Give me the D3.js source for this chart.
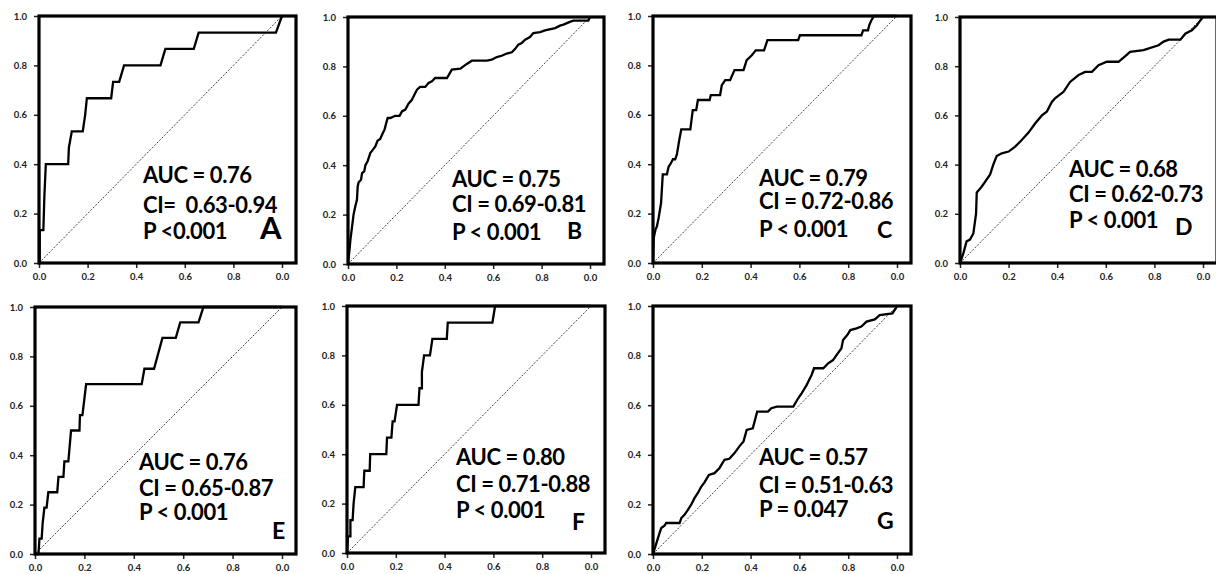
<!DOCTYPE html>
<html>
<head>
<meta charset="utf-8">
<script src="https://cdn.jsdelivr.net/npm/d3@7/dist/d3.min.js"></script>
<style>
  body { margin: 0; background: #fff; }
  text { font-family: Lato, "Open Sans", sans-serif; font-weight: bold; }
</style>
</head>
<body>
<svg id="chart" width="1216" height="574"></svg>
<script>
// tick labels (the last x label really says 0.0 in the original)
const xTicks = [0, 0.2, 0.4, 0.6, 0.8, 1];
const xTickLabels = ["0.0", "0.2", "0.4", "0.6", "0.8", "0.0"];
const yTicks = [0, 0.2, 0.4, 0.6, 0.8, 1];
const yTickLabels = ["0.0", "0.2", "0.4", "0.6", "0.8", "1.0"];

const panelNames = ["A", "B", "C", "D", "E", "F", "G"];

const statsA = ["AUC = 0.76", "CI=  0.63-0.94", "P <0.001"];
const statsB = ["AUC = 0.75", "CI = 0.69-0.81", "P < 0.001"];
const statsC = ["AUC = 0.79", "CI = 0.72-0.86", "P < 0.001"];
const statsD = ["AUC = 0.68", "CI = 0.62-0.73", "P < 0.001"];
const statsE = ["AUC = 0.76", "CI = 0.65-0.87", "P < 0.001"];
const statsF = ["AUC = 0.80", "CI = 0.71-0.88", "P < 0.001"];
const statsG = ["AUC = 0.57", "CI = 0.51-0.63", "P = 0.047"];

// ROC points [1 - specificity, sensitivity]
const rocA = [[0,0],[0.003,0],[0.003,0.133],[0.018,0.133],[0.022,0.267],[0.025,0.333],[0.028,0.4],[0.12,0.4],[0.123,0.467],[0.135,0.533],[0.18,0.533],[0.19,0.6],[0.197,0.667],[0.297,0.667],[0.305,0.733],[0.33,0.733],[0.35,0.8],[0.5,0.8],[0.52,0.867],[0.637,0.867],[0.657,0.933],[0.975,0.933],[1,1]];
const rocB = [[0,0],[0.007,0.065],[0.01,0.099],[0.017,0.152],[0.023,0.2],[0.03,0.233],[0.037,0.26],[0.04,0.314],[0.044,0.331],[0.054,0.341],[0.058,0.368],[0.067,0.375],[0.072,0.4],[0.081,0.416],[0.092,0.449],[0.103,0.463],[0.113,0.476],[0.122,0.499],[0.133,0.506],[0.144,0.53],[0.151,0.544],[0.158,0.571],[0.164,0.591],[0.175,0.591],[0.195,0.6],[0.213,0.6],[0.223,0.618],[0.237,0.625],[0.25,0.649],[0.264,0.665],[0.278,0.692],[0.285,0.706],[0.298,0.717],[0.319,0.717],[0.333,0.733],[0.347,0.74],[0.36,0.753],[0.409,0.753],[0.429,0.787],[0.464,0.791],[0.477,0.8],[0.491,0.81],[0.512,0.823],[0.574,0.823],[0.594,0.827],[0.615,0.838],[0.635,0.843],[0.656,0.852],[0.677,0.857],[0.69,0.87],[0.704,0.888],[0.718,0.895],[0.732,0.908],[0.752,0.919],[0.766,0.935],[0.794,0.939],[0.814,0.946],[0.856,0.955],[0.876,0.965],[0.89,0.969],[0.917,0.98],[0.931,0.985],[0.993,0.985],[1,1]];
const rocC = [[0,0],[0.003,0.101],[0.01,0.135],[0.016,0.148],[0.023,0.182],[0.033,0.242],[0.04,0.359],[0.057,0.359],[0.064,0.39],[0.071,0.4],[0.082,0.42],[0.091,0.42],[0.098,0.44],[0.108,0.5],[0.116,0.541],[0.153,0.541],[0.163,0.619],[0.177,0.619],[0.184,0.66],[0.232,0.66],[0.237,0.68],[0.275,0.68],[0.282,0.72],[0.296,0.74],[0.316,0.74],[0.334,0.781],[0.371,0.781],[0.384,0.821],[0.405,0.841],[0.421,0.861],[0.455,0.861],[0.469,0.902],[0.595,0.902],[0.602,0.922],[0.854,0.922],[0.861,0.942],[0.881,0.942],[0.886,0.962],[0.895,0.983],[0.906,1],[1,1]];
const rocD = [[0,0],[0.014,0.04],[0.027,0.088],[0.041,0.095],[0.055,0.12],[0.066,0.2],[0.069,0.287],[0.089,0.31],[0.103,0.33],[0.124,0.36],[0.137,0.4],[0.151,0.435],[0.172,0.446],[0.2,0.453],[0.227,0.473],[0.254,0.5],[0.282,0.53],[0.309,0.567],[0.337,0.6],[0.357,0.615],[0.378,0.655],[0.391,0.669],[0.426,0.696],[0.453,0.736],[0.488,0.764],[0.515,0.777],[0.543,0.777],[0.57,0.804],[0.604,0.818],[0.652,0.818],[0.673,0.835],[0.7,0.858],[0.755,0.865],[0.817,0.885],[0.838,0.9],[0.859,0.908],[0.907,0.908],[0.927,0.932],[0.954,0.946],[0.975,0.966],[0.989,0.986],[1,1]];
const rocE = [[0,0],[0.014,0],[0.018,0.0625],[0.027,0.0625],[0.031,0.125],[0.038,0.1875],[0.047,0.1875],[0.054,0.25],[0.09,0.25],[0.095,0.3125],[0.115,0.3125],[0.119,0.375],[0.135,0.375],[0.146,0.5],[0.18,0.5],[0.182,0.5625],[0.192,0.5625],[0.207,0.6875],[0.432,0.6875],[0.443,0.75],[0.482,0.75],[0.516,0.875],[0.57,0.875],[0.588,0.9375],[0.662,0.9375],[0.682,1],[1,1]];
const rocF = [[0,0],[0.004,0.067],[0.014,0.067],[0.014,0.133],[0.023,0.133],[0.027,0.2],[0.034,0.267],[0.068,0.267],[0.071,0.333],[0.093,0.333],[0.095,0.4],[0.161,0.4],[0.164,0.467],[0.182,0.467],[0.187,0.533],[0.195,0.533],[0.205,0.6],[0.293,0.6],[0.297,0.667],[0.307,0.667],[0.307,0.733],[0.316,0.8],[0.34,0.8],[0.35,0.867],[0.409,0.867],[0.413,0.933],[0.596,0.933],[0.607,1],[1,1]];
const rocG = [[0,0],[0.014,0.044],[0.027,0.085],[0.034,0.105],[0.048,0.115],[0.054,0.125],[0.109,0.125],[0.116,0.145],[0.129,0.158],[0.143,0.178],[0.157,0.2],[0.17,0.225],[0.184,0.246],[0.198,0.272],[0.211,0.289],[0.229,0.319],[0.252,0.326],[0.272,0.346],[0.293,0.38],[0.313,0.384],[0.334,0.407],[0.354,0.434],[0.371,0.454],[0.384,0.5],[0.409,0.507],[0.427,0.574],[0.471,0.574],[0.485,0.588],[0.507,0.594],[0.575,0.594],[0.595,0.628],[0.609,0.648],[0.63,0.682],[0.65,0.722],[0.66,0.749],[0.698,0.749],[0.718,0.769],[0.738,0.782],[0.752,0.802],[0.772,0.829],[0.779,0.863],[0.796,0.883],[0.809,0.903],[0.834,0.91],[0.854,0.917],[0.875,0.937],[0.909,0.946],[0.929,0.963],[0.981,0.97],[0.995,0.99],[1,1]];

const rocs = [rocA, rocB, rocC, rocD, rocE, rocF, rocG];
const stats = [statsA, statsB, statsC, statsD, statsE, statsF, statsG];

// where each panel sits (left/top = data origin corner), text spots are panel-relative
const layout = [
  {left: 39,  top: 16,  w: 243, h: 247, tx: 104, ty: [167, 197, 223], lx: 221, ly: 223, ls: 31},
  {left: 348, top: 17,  w: 242, h: 247, tx: 104, ty: [170, 195, 223], lx: 219, ly: 222, ls: 23},
  {left: 653, top: 16,  w: 244, h: 247, tx: 106, ty: [170, 193, 221], lx: 224, ly: 222, ls: 23},
  {left: 960, top: 17,  w: 243, h: 246, tx: 109, ty: [160, 185, 211], lx: 215, ly: 218, ls: 23},
  {left: 35,  top: 307, w: 247, h: 247, tx: 104, ty: [163, 189, 213], lx: 237, ly: 232, ls: 23},
  {left: 347, top: 306, w: 244, h: 247, tx: 109, ty: [159, 186, 212], lx: 225, ly: 224, ls: 23},
  {left: 653, top: 306, w: 244, h: 248, tx: 106, ty: [159, 187, 211], lx: 224, ly: 223, ls: 23}
];
const frameExtra = 14;

const svg = d3.select('#chart');

panelNames.forEach((name, i) => {
  const L = layout[i];
  const x = d3.scaleLinear().domain([0, 1]).range([0, L.w]);
  const y = d3.scaleLinear().domain([0, 1]).range([L.h, 0]);
  const g = svg.append('g').attr('transform', `translate(${L.left}, ${L.top})`);

  // axes
  const yAxis = d3.axisLeft(y).tickValues(yTicks).tickFormat((d, k) => yTickLabels[k]).tickSize(5).tickPadding(7);
  const xAxis = d3.axisBottom(x).tickValues(xTicks).tickFormat((d, k) => xTickLabels[k]).tickSize(5).tickPadding(5);
  const ya = g.append('g').call(yAxis);
  const xa = g.append('g').attr('transform', `translate(0, ${L.h})`).call(xAxis);
  [ya, xa].forEach(a => {
    a.select('.domain').remove();
    a.selectAll('line').attr('stroke', '#222').attr('stroke-width', 1.5);
    a.selectAll('text').attr('fill', '#222').style('font-size', '9.5px');
  });

  // chance line
  g.append('line')
    .attr('x1', x(0)).attr('y1', y(0)).attr('x2', x(1)).attr('y2', y(1))
    .attr('stroke', '#444').attr('stroke-width', 1).attr('stroke-dasharray', '2,1.5');

  const line = d3.line().x(d => x(d[0])).y(d => y(d[1]));
  g.append('path').datum(rocs[i])
    .attr('d', line)
    .attr('fill', 'none').attr('stroke', '#000').attr('stroke-width', 2.3);

  // thick box
  g.append('rect')
    .attr('x', 0).attr('y', 0).attr('width', L.w + frameExtra).attr('height', L.h)
    .attr('fill', 'none').attr('stroke', '#000').attr('stroke-width', 3.2);

  stats[i].forEach((s, k) => {
    g.append('text').attr('x', L.tx).attr('y', L.ty[k])
      .style('font-size', '22px').style('letter-spacing', '-0.4px').style('white-space', 'pre')
      .attr('fill', '#000').text(s);
  });
  g.append('text').attr('x', L.lx).attr('y', L.ly)
    .style('font-size', L.ls + 'px').attr('fill', '#000').text(name);
});
</script>
</body>
</html>
